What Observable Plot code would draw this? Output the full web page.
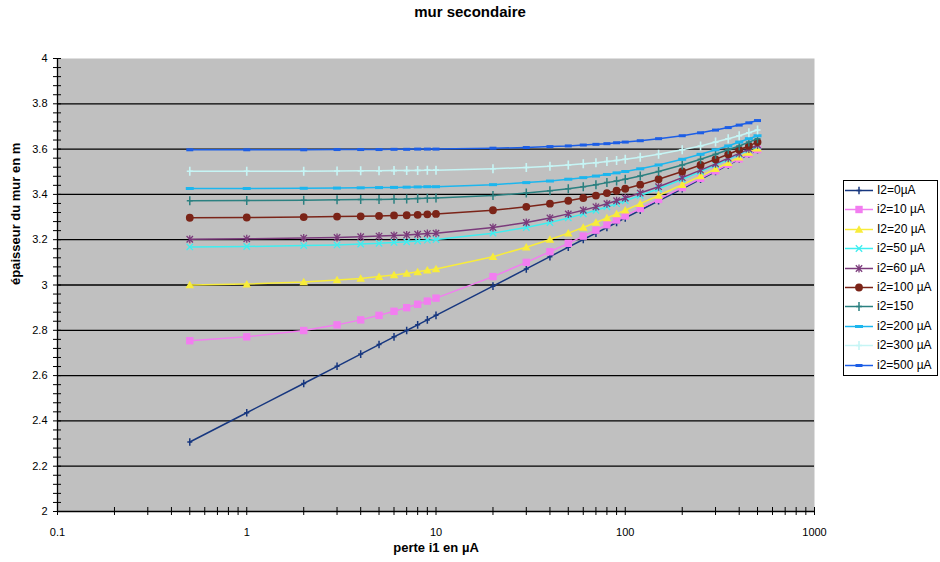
<!DOCTYPE html>
<html><head><meta charset="utf-8">
<script src="https://cdn.jsdelivr.net/npm/d3@7"></script>
<script src="https://cdn.jsdelivr.net/npm/@observablehq/plot@0.6"></script>
<style>
body{margin:0;background:#fff;font-family:"Liberation Sans",Arial,sans-serif;}
#wrap{position:relative;width:940px;height:562px;overflow:hidden;background:#fff;}
#title{position:absolute;left:0;width:940px;top:3px;text-align:center;font-weight:bold;font-size:15px;color:#000;}
#legend{position:absolute;left:843px;top:180px;width:95px;height:196px;border:1px solid #000;background:#fff;box-sizing:border-box;}
.lrow{position:absolute;left:0;height:19px;width:93px;}
.lrow svg{position:absolute;left:0;top:0;}
.lrow span{position:absolute;left:33px;top:2px;font-size:12px;line-height:15px;white-space:nowrap;color:#000;}
</style></head><body>
<div id="wrap"><div id="chart"></div><div id="title">mur secondaire</div><div id="legend"></div></div>
<script>
// ---- data ----
const perte = [0.5,1,2,3,4,5,6,7,8,9,10,20,30,40,50,60,70,80,90,100,120,150,200,250,300,350,400,450,500];
const labels = ["I2=0µA","i2=10 µA","I2=20 µA","i2=50 µA","i2=60 µA","i2=100 µA","i2=150","i2=200 µA","i2=300 µA","i2=500 µA"];
const i2_0   = [2.307,2.436,2.565,2.641,2.695,2.737,2.771,2.799,2.824,2.846,2.866,2.995,3.071,3.125,3.167,3.201,3.229,3.254,3.276,3.296,3.330,3.372,3.425,3.467,3.501,3.530,3.555,3.577,3.597];
const i2_10  = [2.754,2.771,2.799,2.824,2.846,2.866,2.884,2.900,2.915,2.929,2.942,3.037,3.100,3.147,3.184,3.216,3.242,3.266,3.287,3.305,3.338,3.378,3.430,3.471,3.504,3.533,3.557,3.579,3.598];
const i2_20  = [3.000,3.004,3.013,3.022,3.029,3.037,3.044,3.051,3.058,3.065,3.071,3.125,3.167,3.201,3.229,3.254,3.276,3.296,3.314,3.330,3.359,3.395,3.443,3.481,3.513,3.540,3.564,3.585,3.604];
const i2_50  = [3.168,3.170,3.174,3.177,3.181,3.184,3.188,3.191,3.194,3.198,3.201,3.229,3.254,3.276,3.296,3.314,3.330,3.345,3.359,3.372,3.395,3.425,3.467,3.501,3.530,3.555,3.577,3.597,3.614];
const i2_60  = [3.202,3.204,3.207,3.210,3.213,3.216,3.219,3.221,3.224,3.227,3.229,3.254,3.276,3.296,3.314,3.330,3.345,3.359,3.372,3.384,3.406,3.434,3.474,3.507,3.535,3.560,3.581,3.600,3.618];
const i2_100 = [3.297,3.298,3.300,3.302,3.303,3.305,3.307,3.308,3.310,3.312,3.314,3.330,3.345,3.359,3.372,3.384,3.395,3.406,3.416,3.425,3.443,3.467,3.501,3.530,3.555,3.577,3.597,3.614,3.631];
const i2_150 = [3.372,3.373,3.374,3.376,3.377,3.378,3.379,3.380,3.382,3.383,3.384,3.395,3.406,3.416,3.425,3.434,3.443,3.452,3.459,3.467,3.481,3.501,3.530,3.555,3.577,3.597,3.614,3.631,3.646];
const i2_200 = [3.426,3.426,3.427,3.428,3.429,3.430,3.431,3.432,3.433,3.434,3.434,3.443,3.452,3.459,3.467,3.474,3.481,3.488,3.495,3.501,3.513,3.530,3.555,3.577,3.597,3.614,3.631,3.646,3.659];
const i2_300 = [3.502,3.502,3.502,3.503,3.504,3.504,3.505,3.505,3.506,3.507,3.507,3.513,3.519,3.524,3.530,3.535,3.540,3.545,3.550,3.555,3.564,3.577,3.597,3.614,3.631,3.646,3.659,3.672,3.684];
const i2_500 = [3.597,3.597,3.597,3.598,3.598,3.598,3.599,3.599,3.600,3.600,3.600,3.604,3.607,3.611,3.614,3.618,3.621,3.624,3.628,3.631,3.637,3.646,3.659,3.672,3.684,3.695,3.706,3.716,3.726];
const xMajor = [0.1,1,10,100,1000];
const xMinor = [0.1,0.2,0.3,0.4,0.5,0.6,0.7,0.8,0.9,1,2,3,4,5,6,7,8,9,10,20,30,40,50,60,70,80,90,100,200,300,400,500,600,700,800,900,1000];
const yMajor = [2,2.2,2.4,2.6,2.8,3,3.2,3.4,3.6,3.8,4];
const yGrid = [2.2,2.4,2.6,2.8,3,3.2,3.4,3.6,3.8];
const yMinor = d3.range(0, 51).map(i => +(2 + i * 0.04).toFixed(2));
const seriesValues = [i2_0,i2_10,i2_20,i2_50,i2_60,i2_100,i2_150,i2_200,i2_300,i2_500];

// ---- styles ----
const plusSym = (h, v) => ({draw(c){c.moveTo(-h,0);c.lineTo(h,0);c.moveTo(0,-v);c.lineTo(0,v);}});
const dashSym = (w, h) => ({draw(c){c.rect(-w/2,-h/2,w,h);}});
const squareSym = {draw(c){c.rect(-3.7,-3.7,7.4,7.4);}};
const triSym = {draw(c){c.moveTo(0,-4.2);c.lineTo(4.3,3.3);c.lineTo(-4.3,3.3);c.closePath();}};
const circSym = {draw(c){c.moveTo(3.9,0);c.arc(0,0,3.9,0,2*Math.PI);}};
const timesSym = {draw(c){c.moveTo(-3.2,-3.2);c.lineTo(3.2,3.2);c.moveTo(-3.2,3.2);c.lineTo(3.2,-3.2);}};
const asterSym = {draw(c){c.moveTo(-3.2,-3.2);c.lineTo(3.2,3.2);c.moveTo(-3.2,3.2);c.lineTo(3.2,-3.2);c.moveTo(0,-4);c.lineTo(0,4);}};
const styles = [
  {color:"#17377f", sym:plusSym(2.5,3.8), filled:false, sw:1.5},
  {color:"#f27df0", sym:squareSym, filled:true},
  {color:"#f8ec3a", sym:triSym, filled:true},
  {color:"#3eeef0", sym:timesSym, filled:false, sw:1.3},
  {color:"#7b3a7b", sym:asterSym, filled:false, sw:1.3},
  {color:"#7b2418", sym:circSym, filled:true},
  {color:"#2b8080", sym:plusSym(3,4.5), filled:false, sw:1.5},
  {color:"#1cb6ee", sym:dashSym(8,3), filled:true},
  {color:"#c6f5f5", sym:plusSym(3,4.5), filled:false, sw:1.6},
  {color:"#1c5ee6", sym:dashSym(7,3), filled:true}
];

const marks = [
  Plot.frame({fill:"#c0c0c0", stroke:null}),
  Plot.ruleY(yGrid, {stroke:"#000", strokeWidth:1.3}),
];
seriesValues.forEach((vals, k) => {
  const data = vals.map((v, j) => ({x: perte[j], y: v}));
  const st = styles[k];
  marks.push(Plot.line(data, {x:"x", y:"y", stroke: st.color, strokeWidth: 1.5}));
  marks.push(Plot.dot(data, {x:"x", y:"y", symbol: st.sym,
    fill: st.filled ? st.color : "none", stroke: st.filled ? "none" : st.color, strokeWidth: st.sw || 1}));
});
marks.push(
  Plot.ruleY([2], {stroke:"#000", strokeWidth:1.3}),
  Plot.ruleX([0.1], {stroke:"#000", strokeWidth:1.3}),
  Plot.axisX({ticks: xMinor, tickSize: 8, dy: -4, tickFormat: () => "", label: null, stroke:"#000"}),
  Plot.axisX({ticks: xMajor, tickSize: 0, tickPadding: 17, tickFormat: d => String(d), label: null, fontSize: 11, fill:"#000"}),
  Plot.axisY({ticks: yMinor, tickSize: 8, dx: 4, tickFormat: () => "", label: null, stroke:"#000"}),
  Plot.axisY({ticks: yMajor, tickSize: 0, tickPadding: 10, tickFormat: d => String(d), label: null, fontSize: 11, fill:"#000"}),
  Plot.text(["perte i1 en µA"], {frameAnchor:"bottom", dy: 40, fontWeight:"bold", fontSize: 13, fill:"#000"}),
  Plot.text(["épaisseur du mur en m"], {frameAnchor:"left", dx: -42, rotate: -90, fontWeight:"bold", fontSize: 13, fill:"#000"})
);

const chart = Plot.plot({
  width: 940, height: 562,
  marginTop: 58, marginBottom: 51, marginLeft: 57, marginRight: 126,
  x: {type:"log", domain:[0.1, 1000], label: null},
  y: {domain:[2, 4], label: null},
  style: {fontFamily: "'Liberation Sans', Arial, sans-serif", fontSize: "11px", background: "#fff", color:"#000"},
  marks
});
document.getElementById("chart").append(chart);

// ---- legend ----
const leg = d3.select("#legend");
labels.forEach((lab, k) => {
  const st = styles[k];
  const row = leg.append("div").attr("class","lrow").style("top", (k * 19.4) + "px");
  const svg = row.append("svg").attr("width", 32).attr("height", 19);
  svg.append("line").attr("x1",1).attr("x2",29).attr("y1",9.5).attr("y2",9.5)
    .attr("stroke", st.color).attr("stroke-width",1.5);
  svg.append("path").attr("d", d3.symbol(st.sym)()).attr("transform","translate(15,9.5)")
    .attr("fill", st.filled ? st.color : "none").attr("stroke", st.filled ? "none" : st.color)
    .attr("stroke-width", st.sw || 1);
  row.append("span").text(lab);
});
</script>
</body></html>
